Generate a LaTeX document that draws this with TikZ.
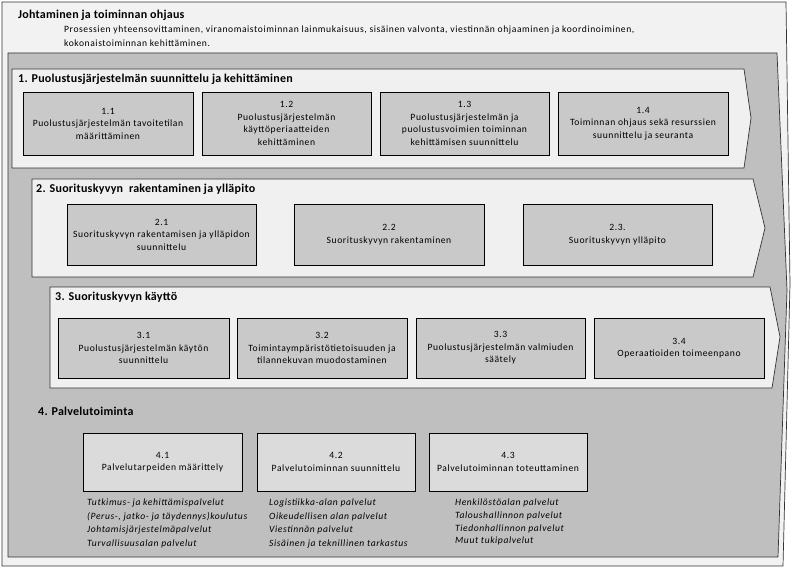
\documentclass[tikz,border=0pt]{standalone}
\usepackage{fontspec}
\setmainfont{Carlito}
\newfontfamily\boxfont[LetterSpace=6]{Carlito}
\newfontfamily\headfont[LetterSpace=2]{Carlito}
\usepackage{xcolor}

\tikzset{
  panel/.style={draw=black!80,line width=0.7pt},
  stepbox/.style={draw,line width=0.7pt,fill=black!21,align=center,inner sep=1pt,
    font=\boxfont\fontsize{9.6}{12.5}\selectfont},
  rowtitle/.style={anchor=west,inner sep=0pt,font=\headfont\bfseries\fontsize{12}{13}\selectfont},
  desc/.style={anchor=west,inner sep=0pt,font=\boxfont\fontsize{9.6}{13}\selectfont},
  servlist/.style={anchor=north west,align=left,inner sep=0pt,
    font=\boxfont\itshape\fontsize{9.6}{13.5}\selectfont}
}

\begin{document}
\begin{tikzpicture}[x=1pt,y=-1pt]
\useasboundingbox (0,0) rectangle (800,569);
% taustat
\draw[panel,fill=black!5] (2,2) -- (786,2) -- (790,284) -- (783,566) -- (2,566) -- cycle;
\draw[panel,fill=black!25] (8,53) -- (777,53) -- (787,290) -- (778,557) -- (8,557) -- cycle;
\draw[panel,fill=black!6] (12,69) -- (744,69) -- (751,118) -- (744,168) -- (12,168) -- cycle;
\draw[panel,fill=black!6] (32,179) -- (753,179) -- (765,228) -- (753,277) -- (32,277) -- cycle;
\draw[panel,fill=black!6] (50,287) -- (770,287) -- (780,337) -- (772,388) -- (50,388) -- cycle;

\draw (18,15) node[rowtitle](johto) {Johtaminen ja toiminnan ohjaus};
\draw (64,30) node[desc](kuvaus) {Prosessien yhteensovittaminen, viranomaistoiminnan lainmukaisuus, sisäinen valvonta, viestinnän ohjaaminen ja koordinoiminen,};
\draw (64,43) node[desc](kuvaus2) {kokonaistoiminnan kehittäminen.};

% 1
\draw (18,79) node[rowtitle](rivi1) {1. Puolustusjärjestelmän suunnittelu ja kehittäminen};
\draw (108,123.5) node[stepbox,minimum width=170pt,minimum height=63pt](b11) {1.1\\Puolustusjärjestelmän tavoitetilan\\määrittäminen};
\draw (286.5,123.5) node[stepbox,minimum width=169pt,minimum height=63pt](b12) {1.2\\Puolustusjärjestelmän\\käyttöperiaatteiden\\kehittäminen};
\draw (464.5,123.5) node[stepbox,minimum width=169pt,minimum height=63pt](b13) {1.3\\Puolustusjärjestelmän ja\\puolustusvoimien toiminnan\\kehittämisen suunnittelu};
\draw (643,123.5) node[stepbox,minimum width=170pt,minimum height=63pt](b14) {1.4\\Toiminnan ohjaus sekä resurssien\\suunnittelu ja seuranta};

% 2
\draw (36,189) node[rowtitle](rivi2) {2. Suorituskyvyn\ \ rakentaminen ja ylläpito};
\draw (161.5,234.5) node[stepbox,minimum width=189pt,minimum height=61pt](b21) {2.1\\Suorituskyvyn rakentamisen ja ylläpidon\\suunnittelu};
\draw (389,234.5) node[stepbox,minimum width=190pt,minimum height=61pt](b22) {2.2\\Suorituskyvyn rakentaminen};
\draw (617.5,234.5) node[stepbox,minimum width=189pt,minimum height=61pt](b23) {2.3.\\Suorituskyvyn ylläpito};

% 3
\draw (55,297) node[rowtitle](rivi3) {3. Suorituskyvyn käyttö};
\draw (143.5,348) node[stepbox,minimum width=171pt,minimum height=60pt](b31) {3.1\\Puolustusjärjestelmän käytön\\suunnittelu};
\draw (322,348) node[stepbox,minimum width=170pt,minimum height=60pt](b32) {3.2\\Toimintaympäristötietoisuuden ja\\tilannekuvan muodostaminen};
\draw (500.5,348) node[stepbox,minimum width=169pt,minimum height=60pt](b33) {3.3\\Puolustusjärjestelmän valmiuden\\säätely};
\draw (679,348) node[stepbox,minimum width=170pt,minimum height=60pt](b34) {3.4\\Operaatioiden toimeenpano};

% 4
\draw (38,411) node[rowtitle](rivi4) {4. Palvelutoiminta};
\draw (162.5,462) node[stepbox,fill=black!14,minimum width=159pt,minimum height=58pt](b41) {4.1\\Palvelutarpeiden määrittely};
\draw (336,462) node[stepbox,fill=black!14,minimum width=158pt,minimum height=58pt](b42) {4.2\\Palvelutoiminnan suunnittelu};
\draw (508,462) node[stepbox,fill=black!14,minimum width=158pt,minimum height=58pt](b43) {4.3\\Palvelutoiminnan toteuttaminen};

\draw (87,499) node[servlist](lista1) {Tutkimus- ja kehittämispalvelut\\(Perus-, jatko- ja täydennys)koulutus\\Johtamisjärjestelmäpalvelut\\Turvallisuusalan palvelut};
\draw (269,499) node[servlist](lista2) {Logistiikka-alan palvelut\\Oikeudellisen alan palvelut\\Viestinnän palvelut\\Sisäinen ja teknillinen tarkastus};
\draw (455,499) node[servlist,font=\boxfont\itshape\fontsize{9.6}{12.7}\selectfont](lista3) {Henkilöstöalan palvelut\\Taloushallinnon palvelut\\Tiedonhallinnon palvelut\\Muut tukipalvelut};
\end{tikzpicture}
\end{document}
